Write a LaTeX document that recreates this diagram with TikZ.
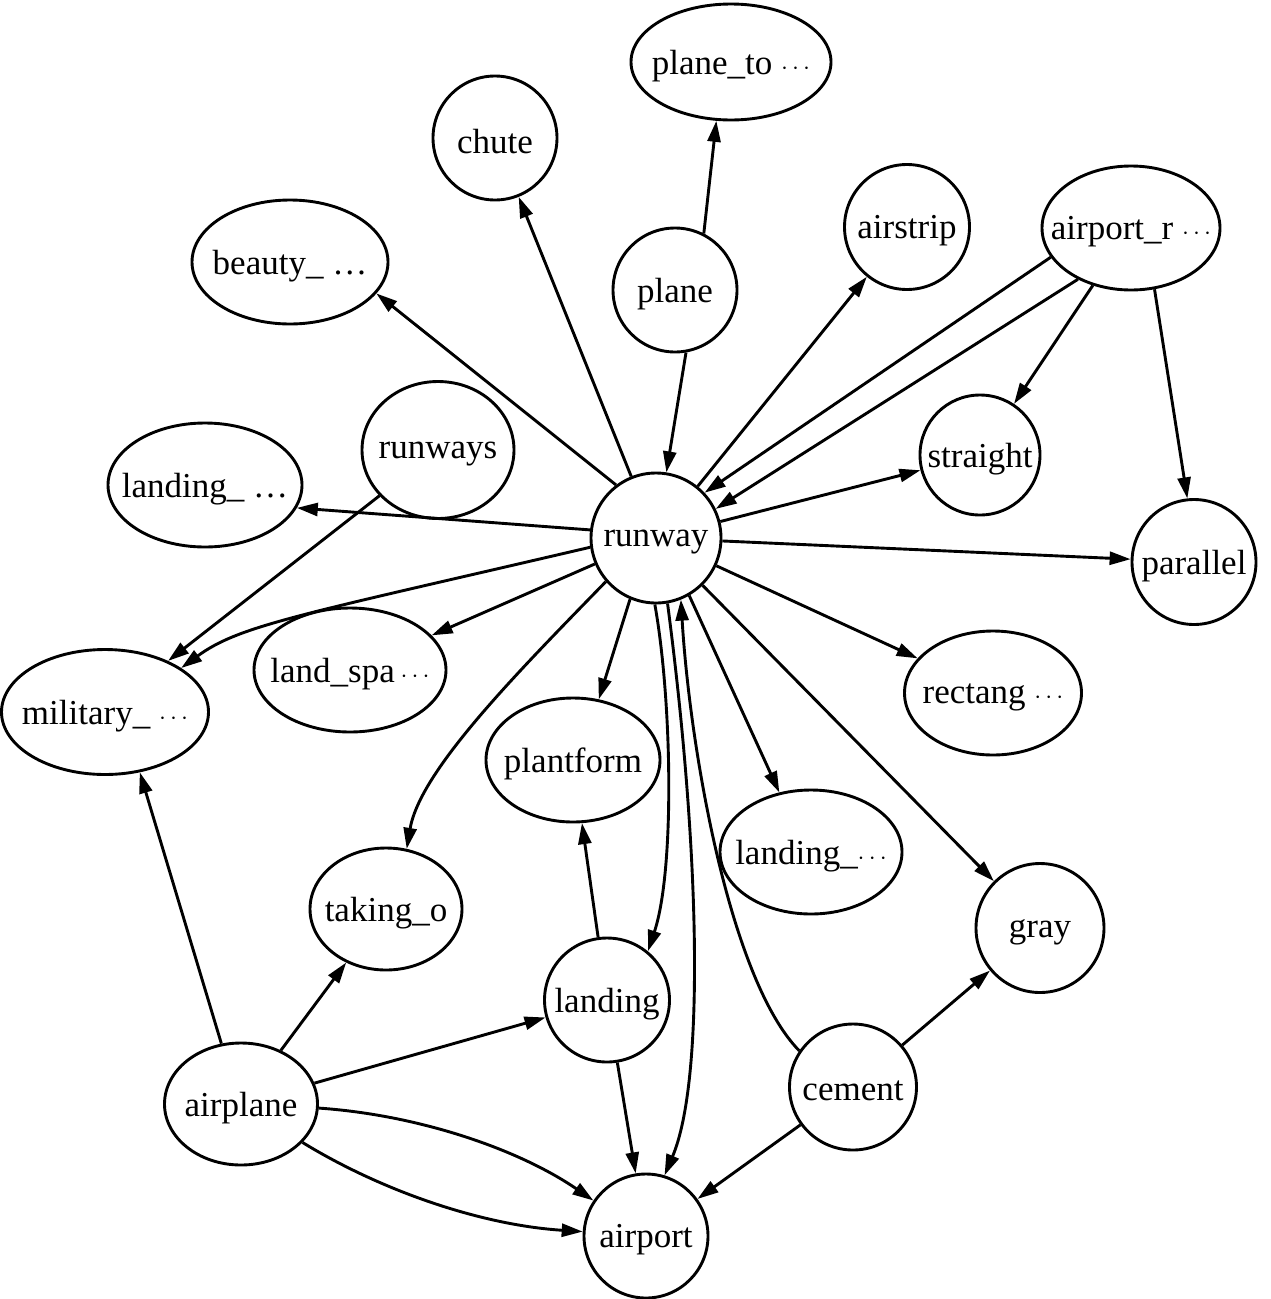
\documentclass[tikz,border=0pt]{standalone}
\usepackage{fontspec}
\setmainfont{Liberation Serif}
\usetikzlibrary{shapes.geometric,arrows.meta}
\begin{document}
\begin{tikzpicture}[x=1pt,y=-1pt,
  nd/.style={draw, ellipse, line width=2.9pt, inner sep=0pt},
  every label/.style={font=\fontsize{35}{42}\selectfont, inner sep=0pt, yshift=-4pt},
  e/.style={line width=2.9pt, -{Triangle[length=21pt,width=13pt]}}]
\useasboundingbox (0,0) rectangle (1271,1299);
\node[nd, minimum width=200pt, minimum height=116pt, label=center:{plane\_to $\cdots$}] (planeto) at (731,62) {};
\node[nd, minimum width=124pt, minimum height=124pt, label=center:{chute}] (chute) at (495,138) {};
\node[nd, minimum width=124pt, minimum height=124pt, label=center:{plane}] (plane) at (675,290) {};
\node[nd, minimum width=125pt, minimum height=125pt, label=center:{airstrip}] (airstrip) at (907,227) {};
\node[nd, minimum width=178pt, minimum height=124pt, label=center:{airport\_r $\cdots$}] (airportr) at (1131,228) {};
\node[nd, minimum width=196pt, minimum height=124pt, label=center:{beauty\_ \ldots}] (beauty) at (290,262) {};
\node[nd, minimum width=152pt, minimum height=137pt, label=center:{runways}] (runways) at (438,450) {};
\node[nd, minimum width=194pt, minimum height=124pt, label=center:{landing\_ \ldots}] (landingL) at (205,485) {};
\node[nd, minimum width=130pt, minimum height=130pt, label=center:{runway}] (runway) at (656,538) {};
\node[nd, minimum width=120pt, minimum height=120pt, label=center:{straight}] (straight) at (980,455) {};
\node[nd, minimum width=124pt, minimum height=125pt, label=center:{parallel}] (parallel) at (1194,562) {};
\node[nd, minimum width=207pt, minimum height=125pt, label=center:{military\_ $\cdots$}] (military) at (105,712) {};
\node[nd, minimum width=192pt, minimum height=124pt, label=center:{land\_spa\,$\cdots$}] (landspa) at (350,670) {};
\node[nd, minimum width=177pt, minimum height=124pt, label=center:{rectang $\cdots$}] (rectang) at (993,693) {};
\node[nd, minimum width=174pt, minimum height=124pt, label=center:{plantform}] (plantform) at (573,760) {};
\node[nd, minimum width=182pt, minimum height=124pt, label=center:{landing\_$\cdots$}] (landingR) at (811,852) {};
\node[nd, minimum width=152pt, minimum height=122pt, label=center:{taking\_o}] (takingo) at (386,909) {};
\node[nd, minimum width=128pt, minimum height=129pt, label=center:{gray}] (gray) at (1040,928) {};
\node[nd, minimum width=125pt, minimum height=124pt, label=center:{landing}] (landing) at (607,1000) {};
\node[nd, minimum width=153pt, minimum height=122pt, label=center:{airplane}] (airplane) at (241,1104) {};
\node[nd, minimum width=127pt, minimum height=126pt, label=center:{cement}] (cement) at (853,1087) {};
\node[nd, minimum width=124pt, minimum height=124pt, label=center:{airport}] (airport) at (646,1236) {};

\draw[e] (plane.63) -- (planeto.256);
\draw[e] (plane.-80) -- (runway.81);
\draw[e] (runway) -- (chute);
\draw[e] (runway.127) -- (beauty.-20);
\draw[e] (runway) -- (airstrip);
\draw[e] (airportr.200) -- (runway.43);
\draw[e] (airportr.224) -- (runway.26);
\draw[e] (airportr) -- (straight);
\draw[e] (airportr.-69) -- (parallel.96);
\draw[e] (runway) -- (straight);
\draw[e] (runway) -- (parallel);
\draw[e] (runway.173) -- (landingL.-14);
\draw[e] (runways) -- (military.39);
\draw[e] (runway.188) .. controls (300,615) and (240,625) .. (military.30);
\draw[e] (runway.203) -- (landspa.23);
\draw[e] (runway) -- (rectang);
\draw[e] (runway.247) -- (plantform.67);
\draw[e] (runway.221) .. controls (520,670) and (420,770) .. (takingo.71);
\draw[e] (runway.269) .. controls (672,700) and (675,870) .. (landing.50);
\draw[e] (runway.280) .. controls (700,850) and (705,1080) .. (airport.73);
\draw[e] (cement.146) .. controls (730,980) and (690,750) .. (runway.292);
\draw[e] (runway.-60) -- (landingR.118);
\draw[e] (runway) -- (gray);
\draw[e] (airplane.108) -- (military.-60);
\draw[e] (airplane) -- (takingo);
\draw[e] (airplane) -- (landing);
\draw[e] (airplane.-3) .. controls (420,1115) and (520,1150) .. (airport.146);
\draw[e] (airplane.-32) .. controls (380,1190) and (480,1225) .. (airport.176);
\draw[e] (landing) -- (plantform);
\draw[e] (landing) -- (airport);
\draw[e] (cement) -- (gray);
\draw[e] (cement) -- (airport);
\end{tikzpicture}
\end{document}
